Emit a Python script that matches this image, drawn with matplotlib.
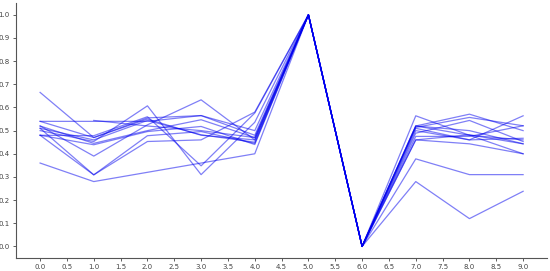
import matplotlib
matplotlib.use('Agg')
import matplotlib.pyplot as plt
import numpy as np

nan = np.nan
xs = [0, 1, 2, 3, 4, 5, 6, 7, 8, 9]

# one row per record
rows = [
    [0.665, 0.470, 0.550, 0.480, 0.460, 1.0, 0.0, 0.520, 0.480, 0.400],
    [0.540, 0.540, 0.540, 0.565, 0.480, 1.0, 0.0, 0.564, 0.480, 0.460],
    [0.540, 0.470, 0.555, 0.565, 0.500, 1.0, 0.0, 0.520, 0.571, 0.500],
    [0.520, 0.445, 0.500, 0.547, 0.470, 1.0, 0.0, 0.514, 0.557, 0.521],
    [0.520, 0.390, 0.525, 0.633, 0.460, 1.0, 0.0, 0.500, 0.460, 0.564],
    [0.510, 0.309, 0.478, 0.496, 0.445, 1.0, 0.0, 0.489, 0.544, 0.453],
    [0.500, 0.453, 0.607, 0.310, 0.536, 1.0, 0.0, 0.475, 0.475, 0.521],
    [0.480, 0.439, 0.496, 0.518, 0.440, 1.0, 0.0, 0.460, 0.443, 0.400],
    [0.480, 0.309, 0.453, 0.460, 0.580, 1.0, 0.0, 0.460, 0.482, 0.443],
    [0.360, 0.280, 0.320, 0.360, 0.400, 1.0, 0.0, 0.280, 0.120, 0.238],
    [nan,   0.544, 0.520, 0.500, 0.470, 1.0, 0.0, 0.378, 0.310, 0.310],
    [0.510, 0.460, 0.544, 0.482, 0.450, 1.0, 0.0, 0.510, 0.460, 0.467],
    [0.480, 0.478, 0.560, 0.348, 0.576, 1.0, 0.0, 0.520, 0.500, 0.443],
]

fig = plt.figure(figsize=(5.5, 2.71), dpi=100)
ax = fig.add_axes([0.029, 0.048, 0.966, 0.94])

for r in rows:
    ax.plot(xs, r, '-', color='#0000ee', alpha=0.5, linewidth=0.9)

ax.set_xticks(np.arange(0, 9.01, 0.5))
ax.set_yticks(np.arange(0, 1.01, 0.1))
ax.xaxis.set_major_formatter(matplotlib.ticker.FormatStrFormatter('%.1f'))
ax.yaxis.set_major_formatter(matplotlib.ticker.FormatStrFormatter('%.1f'))
ax.tick_params(labelsize=5, colors='#444444', length=2.5, width=0.6, pad=2)
for s in ['top', 'right']:
    ax.spines[s].set_visible(False)
for s in ['left', 'bottom']:
    ax.spines[s].set_color('#555555')
    ax.spines[s].set_linewidth(0.8)

fig.savefig('out.png', dpi=100)
